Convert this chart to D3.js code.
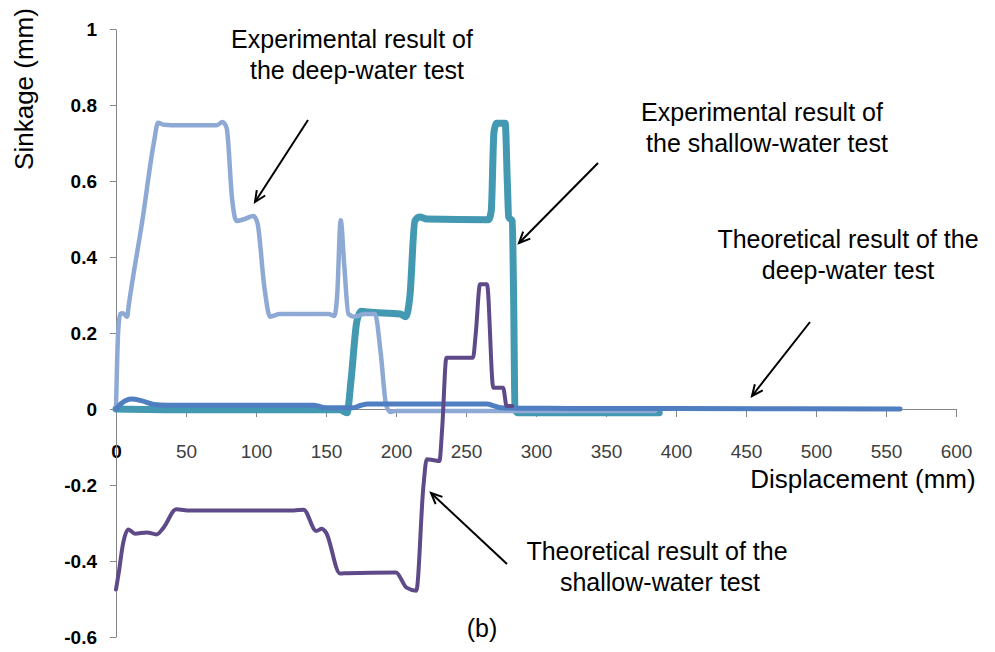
<!DOCTYPE html>
<html>
<head>
<meta charset="utf-8">
<script src="https://cdn.jsdelivr.net/npm/d3@7"></script>
<style>
  body { margin: 0; background: #fff; }
  svg { display: block; font-family: "Liberation Sans", Arial, sans-serif; }
</style>
</head>
<body>
<svg id="chart" width="995" height="652"></svg>
<script>
// values: [displacement mm, sinkage mm]
var deepExp = [[0,0],[1.5,0.2],[3,0.25],[5,0.252],[8,0.243],[9,0.27],[19,0.5],[27,0.7],[30,0.753],[34,0.748],[40,0.747],[72,0.747],[76,0.755],[79,0.74],[83,0.55],[86,0.495],[92,0.5],[98,0.508],[101,0.49],[106,0.32],[110,0.243],[117,0.25],[152,0.25],[156,0.245],[158,0.3],[160.5,0.497],[163,0.38],[166,0.25],[170,0.243],[178,0.25],[185,0.25],[189,0.15],[193,0.01],[196,-0.008],[200,-0.005],[300,-0.005],[385,-0.005]];
var shallowExp = [[0,0],[50,-0.002],[160,-0.002],[165,-0.01],[168,0.08],[172,0.23],[175,0.257],[180,0.255],[203,0.25],[207,0.243],[210,0.3],[213.5,0.495],[217,0.505],[222,0.5],[266,0.498],[268,0.52],[270,0.73],[272,0.752],[278,0.752],[279.5,0.6],[280.5,0.505],[283,0.495],[284,0.3],[285,0],[287,-0.01],[300,-0.01],[388,-0.01]];
var deepTheo = [[0,0],[4,0.015],[11,0.026],[18,0.022],[27,0.012],[36,0.01],[141,0.01],[147,0.005],[152,0.003],[169,0.003],[175,0.01],[180,0.013],[265,0.013],[270,0.008],[275,0.003],[290,0.002],[400,0.001],[560,0]];
var shallowTheo = [[0,-0.475],[2,-0.43],[5,-0.355],[8.8,-0.317],[13.6,-0.328],[22,-0.325],[29,-0.33],[34,-0.312],[43,-0.264],[53,-0.267],[127,-0.267],[134,-0.265],[143,-0.321],[147,-0.315],[150,-0.325],[160,-0.433],[165,-0.432],[200,-0.43],[207.5,-0.47],[214.5,-0.478],[219.5,-0.207],[222,-0.132],[227,-0.135],[231,-0.137],[233,-0.05],[236,0.135],[255,0.135],[257,0.2],[260,0.328],[265,0.328],[269.5,0.056],[276.5,0.056],[279,0.008],[283,0.008]];

var xTicks = [0,50,100,150,200,250,300,350,400,450,500,550,600];
var yTicks = [1,0.8,0.6,0.4,0.2,0,-0.2,-0.4,-0.6];

var svg = d3.select("#chart");
var x = d3.scaleLinear().domain([0, 600]).range([116, 956]);
var y = d3.scaleLinear().domain([-0.6, 1]).range([637, 29]);

// axes
var gx = svg.append("g").attr("transform", "translate(0," + y(0) + ")")
	.call(d3.axisBottom(x).tickValues(xTicks).tickSizeInner(8).tickSizeOuter(0).tickPadding(28));
gx.selectAll("text").attr("font-size", 19).attr("fill", "#404040").attr("font-family", "Liberation Sans, Arial, sans-serif");
gx.selectAll("text").filter(function(d){ return d === 0; })
	.attr("fill", "#000").attr("font-weight", "bold").text("0");
gx.selectAll(".tick").filter(function(d){ return d === 0; }).select("line").remove();

var gy = svg.append("g").attr("transform", "translate(" + x(0) + ",0)")
	.call(d3.axisLeft(y).tickValues(yTicks).tickSizeInner(6).tickSizeOuter(0).tickPadding(13)
		.tickFormat(function(d){ return String(+d.toFixed(1)); }));
gy.selectAll("text").attr("font-size", 19).attr("fill", "#000").attr("font-weight", "bold")
	.attr("font-family", "Liberation Sans, Arial, sans-serif");

svg.selectAll(".domain, .tick line").attr("stroke", "#868686").attr("stroke-width", 1);

// series
var line = d3.line()
	.x(function(d){ return x(d[0]); })
	.y(function(d){ return y(d[1]); })
	.curve(d3.curveMonotoneX);

var series = [
	{ data: shallowExp, color: "#4299b1", width: 7 },
	{ data: deepExp, color: "#8eaad4", width: 4.5 },
	{ data: deepTheo, color: "#4f7fc1", width: 5 },
	{ data: shallowTheo, color: "#5f4a89", width: 4 }
];
svg.append("g").selectAll("path")
	.data(series)
	.enter()
		.append("path")
		.attr("d", function(s){ return line(s.data); })
		.attr("fill", "none")
		.attr("stroke", function(s){ return s.color; })
		.attr("stroke-width", function(s){ return s.width; })
		.attr("stroke-linejoin", "round")
		.attr("stroke-linecap", "round");

// axis titles
svg.append("text").attr("x", 863).attr("y", 488).attr("text-anchor", "middle")
	.attr("font-size", 26).text("Displacement (mm)");
svg.append("text").attr("transform", "translate(33,89) rotate(-90)").attr("text-anchor", "middle")
	.attr("font-size", 26).text("Sinkage (mm)");
svg.append("text").attr("x", 482).attr("y", 637).attr("text-anchor", "middle")
	.attr("font-size", 25).text("(b)");

// annotations
var notes = [
	{ lines: ["Experimental result of", "the deep-water test"], cx: [352, 357], y: 48, from: [308,120], to: [255,202] },
	{ lines: ["Experimental result of", "the shallow-water test"], cx: [762, 767], y: 121, from: [598,163], to: [519,243] },
	{ lines: ["Theoretical result of the", "deep-water test"], cx: [848, 848], y: 248, from: [810,322], to: [752,396] },
	{ lines: ["Theoretical result of the", "shallow-water test"], cx: [657, 660], y: 560, from: [507,564], to: [431,493] }
];
var ann = svg.append("g");
notes.forEach(function(n){
	n.lines.forEach(function(t, i){
		ann.append("text").attr("x", n.cx[i]).attr("y", n.y + i * 31)
			.attr("text-anchor", "middle").attr("font-size", 25).attr("fill", "#000").text(t);
	});
	var dx = n.to[0] - n.from[0], dy = n.to[1] - n.from[1];
	var len = Math.sqrt(dx * dx + dy * dy), ux = dx / len, uy = dy / len;
	var hl = 11, hw = 5;
	ann.append("path")
		.attr("d", "M " + n.from[0] + " " + n.from[1] + " L " + n.to[0] + " " + n.to[1])
		.attr("stroke", "#000").attr("stroke-width", 2).attr("fill", "none");
	ann.append("path")
		.attr("d", "M " + (n.to[0] - ux * hl - uy * hw) + " " + (n.to[1] - uy * hl + ux * hw)
			+ " L " + n.to[0] + " " + n.to[1]
			+ " L " + (n.to[0] - ux * hl + uy * hw) + " " + (n.to[1] - uy * hl - ux * hw))
		.attr("stroke", "#000").attr("stroke-width", 2).attr("fill", "none");
});
</script>
</body>
</html>
